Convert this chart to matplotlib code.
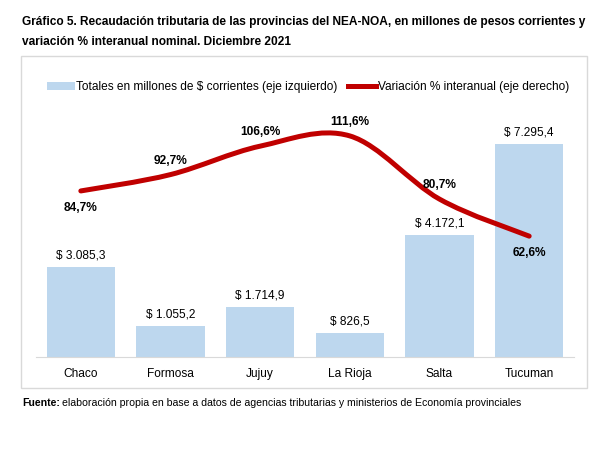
import numpy as np
import matplotlib.pyplot as plt
from matplotlib.path import Path
from matplotlib.patches import PathPatch, Patch, Rectangle
from matplotlib.lines import Line2D

plt.rcParams['font.family'] = ['Liberation Sans', 'DejaVu Sans']

# datos
provincias = ['Chaco', 'Formosa', 'Jujuy', 'La Rioja', 'Salta', 'Tucuman']
totales = [3085.3, 1055.2, 1714.9, 826.5, 4172.1, 7295.4]
variacion = [84.7, 92.7, 106.6, 111.6, 80.7, 62.6]
etiq_totales = ['$ 3.085,3', '$ 1.055,2', '$ 1.714,9', '$ 826,5', '$ 4.172,1', '$ 7.295,4']
etiq_var = ['84,7%', '92,7%', '106,6%', '111,6%', '80,7%', '62,6%']
# etiqueta arriba (1) o abajo (-1) del punto
pos_var = [-1, 1, 1, 1, 1, -1]

W, H = 595, 455
fs = 8.6
fig = plt.figure(figsize=(W / 100, H / 100), dpi=100)

# marco del grafico
fig.patches.append(Rectangle((21 / W, 1 - 388 / H), 566 / W, 332 / H,
                             transform=fig.transFigure, fill=False,
                             edgecolor='#D9D9D9', linewidth=1))

ax = fig.add_axes([36 / W, 1 - 357 / H, 538 / W, 263 / H])
x = np.arange(len(provincias))
ax.bar(x, totales, width=0.76, color='#BDD7EE', zorder=2)
ax.set_xlim(-0.5, 5.5)
ax.set_ylim(0, 9000)
for i in range(len(x)):
    ax.annotate(etiq_totales[i], (x[i], totales[i]), xytext=(0, 4),
                textcoords='offset points', ha='center', va='bottom',
                fontsize=fs, color='black')
ax.set_xticks(x)
ax.set_xticklabels(provincias, fontsize=fs)
ax.tick_params(axis='x', length=0, pad=8)
ax.set_yticks([])
for s in ['top', 'left', 'right']:
    ax.spines[s].set_visible(False)
ax.spines['bottom'].set_color('#D9D9D9')

# linea suavizada (curvas de Bezier tipo Excel)
ax2 = ax.twinx()
ax2.set_ylim(3.5, 132.1)
ax2.axis('off')
pts = np.column_stack([x, variacion]).astype(float)
verts = [pts[0]]
codes = [Path.MOVETO]
n = len(pts)
for i in range(n - 1):
    p0 = pts[i - 1] if i > 0 else pts[i]
    p1 = pts[i]
    p2 = pts[i + 1]
    p3 = pts[i + 2] if i + 2 < n else pts[i + 1]
    c1 = p1 + (p2 - p0) / 6
    c2 = p2 - (p3 - p1) / 6
    verts += [c1, c2, p2]
    codes += [Path.CURVE4] * 3
ax2.add_patch(PathPatch(Path(verts, codes), facecolor='none',
                        edgecolor='#C00000', linewidth=3.6,
                        capstyle='round', zorder=3))
for i in range(len(x)):
    off = 10 if pos_var[i] > 0 else -12.5
    ax2.annotate(etiq_var[i], (x[i], variacion[i]), xytext=(0, off),
                 textcoords='offset points', ha='center', va='center',
                 fontsize=fs, fontweight='bold')

# leyenda
handles = [Patch(facecolor='#BDD7EE', edgecolor='none'),
           Line2D([], [], color='#C00000', linewidth=3.6)]
fig.legend(handles, ['Totales en millones de $ corrientes (eje izquierdo)',
                     'Variación % interanual (eje derecho)'],
           loc='center', bbox_to_anchor=(308 / W, 1 - 87 / H), ncol=2,
           frameon=False, fontsize=fs, handlelength=2.3, handleheight=0.6,
           handletextpad=0.15, columnspacing=0.9)

# titulo
fig.text(22 / W, 1 - 22 / H,
         'Gráfico 5. Recaudación tributaria de las provincias del NEA-NOA, '
         'en millones de pesos corrientes y',
         fontsize=fs, fontweight='bold', va='center')
fig.text(22 / W, 1 - 42 / H, 'variación % interanual nominal. Diciembre 2021',
         fontsize=fs, fontweight='bold', va='center')

# fuente
t = fig.text(22 / W, 1 - 403 / H, 'Fuente:', fontsize=7.6, fontweight='bold',
             va='center')
fig.canvas.draw()
bb = t.get_window_extent()
fig.text(bb.x1 / W + 2 / W, 1 - 403 / H,
         'elaboración propia en base a datos de agencias tributarias y '
         'ministerios de Economía provinciales', fontsize=7.6, va='center')

fig.savefig('out.png', dpi=100)
